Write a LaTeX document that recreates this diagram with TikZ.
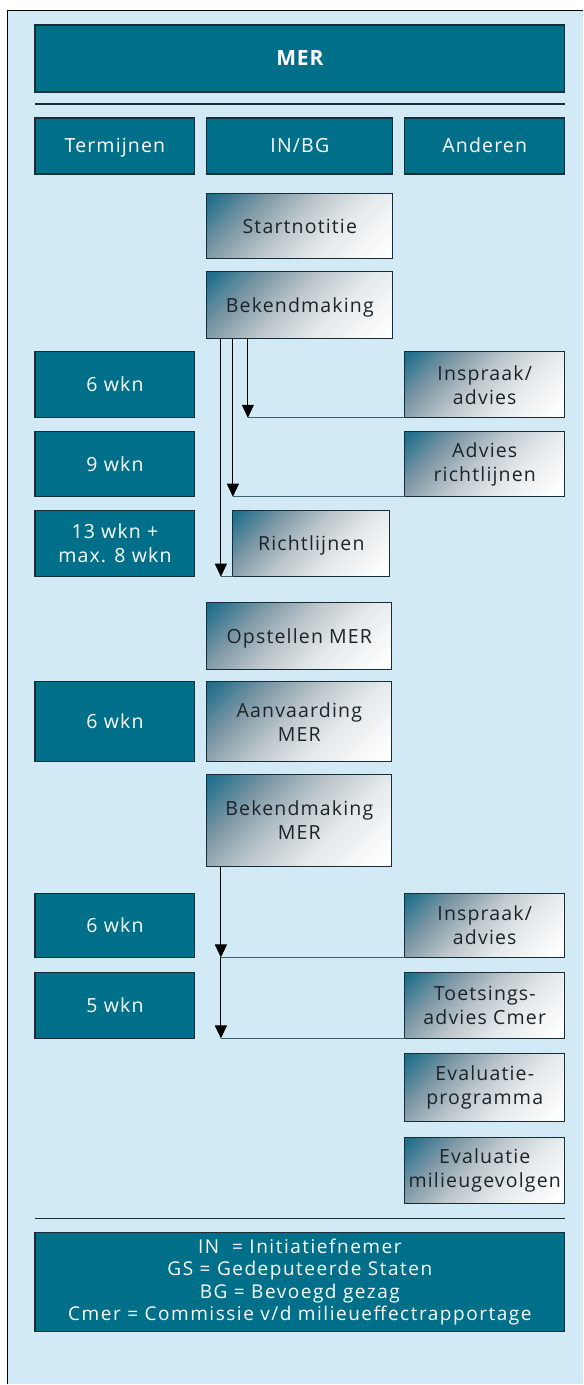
\documentclass[tikz,border=0pt]{standalone}
\usepackage{fontspec}
\setmainfont{Open Sans}[LetterSpace=6]
\usetikzlibrary{arrows.meta}

\definecolor{bgblue}{RGB}{210,234,245}
\definecolor{tealbox}{RGB}{0,111,138}
\definecolor{edge}{RGB}{25,45,55}
\definecolor{gtop}{RGB}{30,110,140}
\definecolor{gmid}{RGB}{122,150,164}
\definecolor{glight}{RGB}{190,199,204}
\definecolor{gpale}{RGB}{228,233,235}
\definecolor{hline}{RGB}{60,95,110}
\definecolor{darktext}{RGB}{28,36,42}

% diagonal fade used for the process steps
\pgfdeclareverticalshading{stepgrad}{100bp}{color(0bp)=(white); color(18bp)=(white); color(38bp)=(gpale); color(53bp)=(glight); color(69bp)=(gmid); color(84bp)=(gtop); color(100bp)=(gtop)}

\tikzset{
  boxtext/.style={font=\fontsize{19.5}{24}\selectfont, align=center},
  tbox/.style={boxtext, draw=edge, line width=1.2pt, fill=tealbox, text=white, inner sep=0pt, outer sep=0pt},
  gbox/.style={boxtext, draw=edge, line width=1.2pt, shade, shading=stepgrad, shading angle=45, text=darktext, inner sep=0pt, outer sep=0pt},
  oneline/.style={text height=14pt, text depth=0pt},
  col/.style={minimum width=160pt},
  mid/.style={minimum width=185pt},
  arr/.style={line width=1pt, -{Triangle[length=13pt,width=12pt]}},
  feed/.style={line width=1.1pt, draw=hline},
  rule/.style={line width=1.5pt, draw=edge}
}

\begin{document}
\begin{tikzpicture}[x=1pt,y=-1pt]
  % page, panel and frame
  \fill[white] (0,0) rectangle (583,1385);
  \fill[bgblue] (7.5,10.5) rectangle (583,1385);
  \draw[black, line width=1.5pt] (7.5,1385) -- (7.5,10.5) -- (583,10.5);
  \useasboundingbox (0,0) rectangle (583,1385);

  % title and column headers
  \node[tbox, oneline, minimum width=530pt, minimum height=67pt, font=\fontsize{21}{24}\selectfont\bfseries\addfontfeature{LetterSpace=4}] (mer) at (300,58.5) {MER};
  \draw[rule] (35,104) -- (565,104);
  \node[tbox, oneline, col, minimum height=56pt] (hT) at (115,146) {Termijnen};
  \node[tbox, oneline, minimum width=186pt, minimum height=56pt] (hI) at (300,146) {IN/BG};
  \node[tbox, oneline, col, minimum height=56pt] (hA) at (485,146) {Anderen};

  % IN/BG steps
  \node[gbox, oneline, minimum width=186pt, minimum height=65pt] (start) at (300,226.5) {Startnotitie};
  \node[gbox, oneline, minimum width=186pt, minimum height=67pt] (bek) at (300,305.5) {Bekendmaking};
  \node[gbox, oneline, minimum width=157pt, minimum height=66pt] (richt) at (311.5,544) {Richtlijnen};
  \node[gbox, oneline, mid, minimum height=67pt] (opst) at (299.5,636.5) {Opstellen MER};
  \node[gbox, mid, minimum height=80pt] (aanv) at (299.5,722) {Aanvaarding\\MER};
  \node[gbox, mid, minimum height=92pt] (bekm) at (299.5,821) {Bekendmaking\\MER};

  % time limits
  \node[tbox, oneline, col, minimum height=66pt] (t1) at (115,385) {6 wkn};
  \node[tbox, oneline, col, minimum height=65pt] (t2) at (115,464.5) {9 wkn};
  \node[tbox, col, minimum height=66pt] (t3) at (115,544) {13 wkn +\\max. 8 wkn};
  \node[tbox, oneline, col, minimum height=80pt] (t4) at (115,722) {6 wkn};
  \node[tbox, oneline, col, minimum height=64pt] (t5) at (115,926) {6 wkn};
  \node[tbox, oneline, col, minimum height=66pt] (t6) at (115,1006) {5 wkn};

  % other parties
  \node[gbox, col, minimum height=66pt] (insp1) at (485,385) {Inspraak/\\advies};
  \node[gbox, col, minimum height=65pt] (adv) at (485,464.5) {Advies\\richtlijnen};
  \node[gbox, col, minimum height=64pt] (insp2) at (485,926) {Inspraak/\\advies};
  \node[gbox, col, minimum height=66pt] (toets) at (485,1006) {Toetsings-\\advies Cmer};
  \node[gbox, col, minimum height=68pt] (evp) at (485,1088) {Evaluatie-\\programma};
  \node[gbox, col, minimum height=66pt] (evm) at (485,1171) {Evaluatie\\milieugevolgen};

  % legend
  \draw[rule] (35,1219) -- (565,1219);
  \node[tbox, minimum width=530pt, minimum height=99pt, font=\fontsize{19}{22.5}\selectfont\addfontfeature{LetterSpace=8}] (legend) at (300,1282.5)
    {IN\ \ = Initiatiefnemer\\GS = Gedeputeerde Staten\\BG = Bevoegd gezag\\Cmer = Commissie v/d milieueffectrapportage};

  % connectors after the announcement
  \coordinate (a1) at ([xshift=41pt]bek.south west);
  \coordinate (a2) at ([xshift=26pt]bek.south west);
  \coordinate (a3) at ([xshift=14pt]bek.south west);
  \draw[feed] (a1 |- insp1.south west) -- (insp1.south west);
  \draw[feed] (a2 |- adv.south west) -- (adv.south west);
  \draw[feed] (a3 |- richt.south west) -- (richt.south west);
  \draw[arr] (a1) -- (a1 |- insp1.south west);
  \draw[arr] (a2) -- (a2 |- adv.south west);
  \draw[arr] (a3) -- (a3 |- richt.south west);

  % connectors after the announcement of the MER
  \coordinate (b1) at ([xshift=14pt]bekm.south west);
  \draw[feed] (b1 |- insp2.south west) -- (insp2.south west);
  \draw[feed] (b1 |- toets.south west) -- (toets.south west);
  \draw[arr] (b1) -- (b1 |- insp2.south west);
  \draw[arr] (b1 |- insp2.south west) -- (b1 |- toets.south west);
\end{tikzpicture}
\end{document}
